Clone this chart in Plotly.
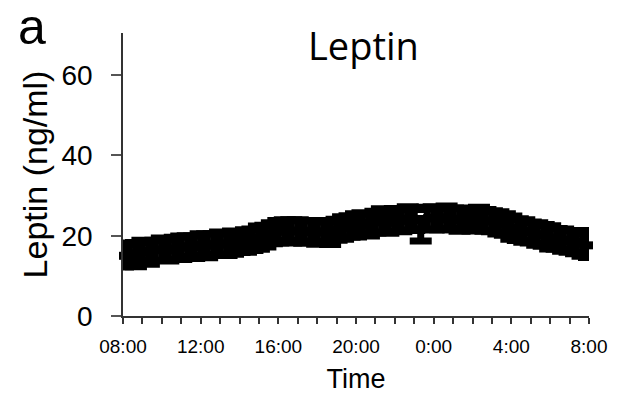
import plotly.graph_objects as go

# hours after 08:00, sampled every 20 minutes
hours = [i / 3 for i in range(73)]
leptin = [
    15.0, 15.6, 15.3,
    16.2, 15.8, 16.4,
    16.6, 16.3, 16.9,
    17.0, 17.4, 17.1,
    17.8, 17.5, 17.9,
    18.1, 17.8, 18.3,
    18.4, 18.7, 19.0,
    19.5, 19.9, 20.6,
    21.0, 21.4, 21.1,
    21.3, 20.9, 21.2,
    20.8, 21.1, 20.6,
    21.5, 21.9, 22.3,
    22.6, 23.1, 22.7,
    23.4, 23.8, 23.2,
    24.0, 23.7, 24.3,
    23.9, 21.5, 24.4,
    24.3, 24.1, 24.6,
    24.2, 23.9, 24.3,
    24.0, 24.2, 23.8,
    23.6, 23.2, 22.8,
    22.0, 21.5, 21.2,
    20.8, 20.4, 20.1,
    19.6, 19.2, 18.9,
    18.6, 18.4, 18.1,
    17.6,
]
sem = [
    2.8, 2.6, 3.0,
    2.7, 2.9, 2.5,
    2.8, 2.6, 2.7,
    2.9, 2.6, 2.8,
    2.7, 3.0, 2.6,
    2.8, 2.7, 2.9,
    2.6, 2.8, 2.7,
    2.9, 2.7, 2.6,
    2.8, 2.6, 2.9,
    2.7, 2.8, 2.6,
    2.9, 2.7, 2.8,
    2.6, 2.8, 2.7,
    2.9, 2.6, 2.8,
    2.7, 2.9, 2.6,
    2.8, 2.7, 2.9,
    2.6, 2.8, 2.7,
    2.9, 2.6, 2.8,
    2.7, 2.8, 2.6,
    2.8, 2.9, 2.7,
    2.6, 2.8, 2.7,
    2.9, 2.7, 2.8,
    2.6, 2.8, 2.7,
    2.9, 2.6, 2.8,
    2.7, 2.9, 3.2,
    3.0,
]
tick_vals = [0, 4, 8, 12, 16, 20, 24]
tick_text = ["08:00", "12:00", "16:00", "20:00", "0:00", "4:00", "8:00"]
y_ticks = [0, 20, 40, 60]

fig = go.Figure()
fig.add_trace(go.Scatter(
    x=hours, y=leptin, mode="markers",
    marker=dict(symbol="square", size=8, color="black"),
    error_y=dict(type="data", array=sem, visible=True, color="black",
                 thickness=7, width=11),
    cliponaxis=False, showlegend=False,
))

font_main = "Liberation Sans, Arial, sans-serif"
fig.update_layout(
    width=619, height=401,
    margin=dict(l=123, r=20, t=33, b=84),
    paper_bgcolor="white", plot_bgcolor="white",
    font=dict(family=font_main, color="black"),
    showlegend=False,
    xaxis=dict(
        range=[0, 24], tickmode="array", tickvals=tick_vals, ticktext=tick_text,
        ticks="outside", ticklen=6, tickwidth=1.5, tickcolor="#333",
        showline=True, linecolor="#333", linewidth=1.5,
        showgrid=False, zeroline=False,
        tickfont=dict(size=19, family=font_main),
        ticklabelstandoff=6,
        minor=dict(dtick=1, ticks="outside", ticklen=6, tickwidth=1.5, tickcolor="#333"),
        title=dict(text="Time", font=dict(size=27, family=font_main), standoff=14),
    ),
    yaxis=dict(
        range=[0, 70.5], tickmode="array", tickvals=y_ticks,
        ticks="outside", ticklen=10, tickwidth=1.5, tickcolor="#555",
        showline=True, linecolor="#333", linewidth=1.5,
        showgrid=False, zeroline=False,
        tickfont=dict(size=28, family=font_main),
        ticklabelstandoff=13,
        title=dict(text="Leptin (ng/ml)", font=dict(size=34, family=font_main), standoff=4),
    ),
    annotations=[
        dict(text="Leptin", showarrow=False, xref="paper", yref="paper",
             font=dict(size=38, family="Open Sans, sans-serif")),
        dict(text="a", showarrow=False, xref="paper", yref="paper",
             font=dict(size=50, family=font_main)),
    ],
)
pw, ph = 619 - 123 - 20, 401 - 33 - 84
fig.layout.annotations[0].update(x=(369 - 123) / pw, y=(317 - 45) / ph, xanchor="center", yanchor="middle")
fig.layout.annotations[1].update(x=(30 - 123) / pw, y=(317 + 3) / ph, xanchor="center", yanchor="top")

fig.write_html("out.html")
